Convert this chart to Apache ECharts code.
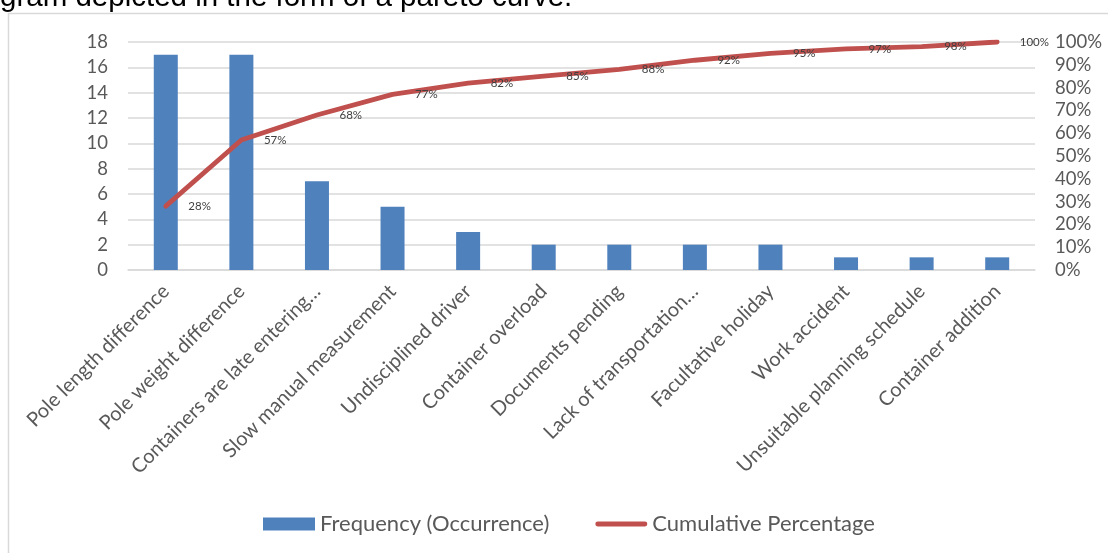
<!DOCTYPE html>
<html>
<head>
<meta charset="utf-8">
<script src="https://cdn.jsdelivr.net/npm/echarts@6/dist/echarts.min.js"></script>
<style>
  html, body { margin: 0; padding: 0; background: #ffffff; }
  #chart { width: 1108px; height: 553px; }
</style>
</head>
<body>
<div id="chart"></div>
<script>
// Pareto chart of delay causes: occurrence counts with cumulative share
const categories = [
  'Pole length difference',
  'Pole weight difference',
  'Containers are late entering…',
  'Slow manual measurement',
  'Undisciplined driver',
  'Container overload',
  'Documents pending',
  'Lack of transportation…',
  'Facultative holiday',
  'Work accident',
  'Unsuitable planning schedule',
  'Container addition'
];
const frequency = [17, 17, 7, 5, 3, 2, 2, 2, 2, 1, 1, 1];
const cumulativePct = [28, 57, 68, 77, 82, 85, 88, 92, 95, 97, 98, 100];
const leftTicks = [0, 2, 4, 6, 8, 10, 12, 14, 16, 18];
const rightTicks = [0, 10, 20, 30, 40, 50, 60, 70, 80, 90, 100];

const FONT = 'Lato, "Open Sans", sans-serif';
const BAR_COLOR = '#4F81BD';
const LINE_COLOR = '#C0504D';
const GRID_COLOR = '#D9D9D9';

const chart = echarts.init(document.getElementById('chart'), null, { renderer: 'canvas' });

chart.setOption({
  backgroundColor: '#ffffff',
  animation: false,
  textStyle: { fontFamily: FONT },
  graphic: [
    {
      type: 'text',
      left: 0,
      top: -17,
      style: {
        text: 'gram depicted in the form of a pareto curve.',
        font: '29.5px "Liberation Sans", Arial, sans-serif',
        fill: '#000000'
      }
    },
    {
      type: 'rect',
      shape: { x: 8.5, y: 13.5, width: 1300, height: 700 },
      style: { fill: 'none', stroke: GRID_COLOR, lineWidth: 1.5 },
      silent: true
    }
  ],
  grid: { left: 128, right: 73, top: 42, bottom: 283, containLabel: false },
  legend: {
    left: 258,
    top: 508,
    itemWidth: 52,
    itemHeight: 13,
    itemGap: 46,
    textStyle: { fontFamily: FONT, fontSize: 22, color: '#595959' },
    data: [
      { name: 'Frequency (Occurrence)', icon: 'rect' },
      { name: 'Cumulative Percentage', icon: 'path://M0,0 M2.5,4 L51.5,4 A2.5,2.5 0 0 1 51.5,9 L2.5,9 A2.5,2.5 0 0 1 2.5,4 Z M54,13' }
    ]
  },
  xAxis: {
    type: 'category',
    data: categories,
    axisLine: { show: true, lineStyle: { color: GRID_COLOR, width: 1.5 } },
    axisTick: { show: false },
    axisLabel: {
      rotate: 45,
      interval: 0,
      margin: 18,
      fontSize: 20,
      color: '#595959',
      fontFamily: FONT
    },
    splitLine: { show: false }
  },
  yAxis: [
    {
      type: 'value',
      min: leftTicks[0],
      max: leftTicks[leftTicks.length - 1],
      interval: leftTicks[1] - leftTicks[0],
      axisLine: { show: false },
      axisTick: { show: false },
      axisLabel: { fontSize: 18.5, color: '#595959', margin: 20, fontFamily: FONT },
      splitLine: { show: true, lineStyle: { color: GRID_COLOR, width: 1.5 } }
    },
    {
      type: 'value',
      min: rightTicks[0],
      max: rightTicks[rightTicks.length - 1],
      interval: rightTicks[1] - rightTicks[0],
      axisLine: { show: false },
      axisTick: { show: false },
      axisLabel: {
        fontSize: 18.5, color: '#595959', margin: 20, fontFamily: FONT,
        formatter: v => v + '%'
      },
      splitLine: { show: false }
    }
  ],
  series: [
    {
      name: 'Frequency (Occurrence)',
      type: 'bar',
      yAxisIndex: 0,
      data: frequency,
      barWidth: 24,
      itemStyle: { color: BAR_COLOR },
      z: 2
    },
    {
      name: 'Cumulative Percentage',
      type: 'line',
      yAxisIndex: 1,
      data: cumulativePct,
      symbol: 'circle',
      symbolSize: 1,
      showSymbol: true,
      itemStyle: { color: LINE_COLOR },
      lineStyle: { color: LINE_COLOR, width: 4.8, cap: 'round', join: 'round' },
      label: {
        show: true,
        position: 'right',
        distance: 22,
        fontSize: 11.5,
        color: '#404040',
        fontFamily: FONT,
        formatter: p => p.value + '%'
      },
      z: 3
    }
  ]
});
</script>
</body>
</html>
